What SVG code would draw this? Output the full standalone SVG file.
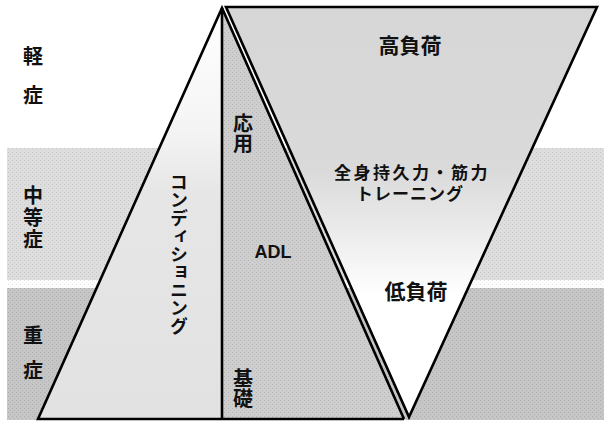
<svg xmlns="http://www.w3.org/2000/svg" width="604" height="425" viewBox="0 0 604 425">
<defs>
<linearGradient id="gCond" x1="0" y1="0" x2="0" y2="1">
<stop offset="0" stop-color="#ffffff"/>
<stop offset="0.3" stop-color="#f4f4f4"/>
<stop offset="0.45" stop-color="#e6e6e6"/>
<stop offset="1" stop-color="#e2e2e2"/>
</linearGradient>
<linearGradient id="gInv" x1="0" y1="0" x2="0" y2="1">
<stop offset="0" stop-color="#d6d6d6"/>
<stop offset="0.4" stop-color="#dadada"/>
<stop offset="0.58" stop-color="#efefef"/>
<stop offset="0.7" stop-color="#ffffff"/>
<stop offset="1" stop-color="#ffffff"/>
</linearGradient>
<pattern id="dots" width="4" height="4" patternUnits="userSpaceOnUse">
<rect x="0" y="0" width="1" height="1" fill="#000" opacity="0.12"/>
<rect x="2" y="2" width="1" height="1" fill="#000" opacity="0.08"/>
</pattern>
</defs>
<style>
.jp{font-family:"Noto Sans CJK JP","Noto Sans CJK SC",sans-serif;fill:#111;font-weight:bold;}
.vt{writing-mode:vertical-rl;font-size:20px;}
.big{font-size:21px;text-anchor:middle;}
.mid{font-size:17px;text-anchor:middle;}
.edge{fill:none;stroke:#000;stroke-width:2.6;stroke-linejoin:miter;}
</style>
<rect width="604" height="425" fill="#ffffff"/>
<g id="bands">
<rect x="7" y="148" width="597" height="132" fill="#dedede"/>
<rect x="7" y="288" width="597" height="132" fill="#c6c6c6"/>
<rect x="7" y="148" width="597" height="272" fill="url(#dots)"/>
</g>
<g id="conditioning">
<polygon points="222,8 38,419 222,419" fill="url(#gCond)"/>
<text class="jp" x="179" y="173" font-size="18" style="writing-mode:vertical-rl">コンディショニング</text>
</g>
<g id="adl">
<polygon points="222,8 404,419 222,419" fill="#cecece"/>
<polygon points="222,8 404,419 222,419" fill="url(#dots)"/>
<text class="jp vt" x="243" y="113">応用</text>
<text x="273" y="258" font-family="Liberation Sans, Arial, sans-serif" font-weight="bold" font-size="18" text-anchor="middle" fill="#111">ADL</text>
<text class="jp vt" x="243" y="368">基礎</text>
</g>
<g id="load">
<polygon points="226,7 597,7 409,417" fill="url(#gInv)"/>
<text class="jp big" x="410" y="53">高負荷</text>
<text class="jp mid"><tspan x="412" y="179" letter-spacing="2.5">全身持久力・筋力</tspan><tspan x="410" y="200" letter-spacing="1">トレーニング</tspan></text>
<text class="jp big" x="416" y="299">低負荷</text>
</g>
<g id="severity">
<text class="jp vt" x="33" y="46" letter-spacing="19">軽症</text>
<text class="jp vt" x="33" y="185" letter-spacing="2">中等症</text>
<text class="jp vt" x="33" y="325" letter-spacing="15">重症</text>
</g>
<g id="connectors">
<polyline class="edge" points="404,419 222,8 38,419 404,419"/>
<line class="edge" x1="222" y1="8" x2="222" y2="419"/>
<polygon class="edge" points="226,7 597,7 409,417"/>
</g>
</svg>
